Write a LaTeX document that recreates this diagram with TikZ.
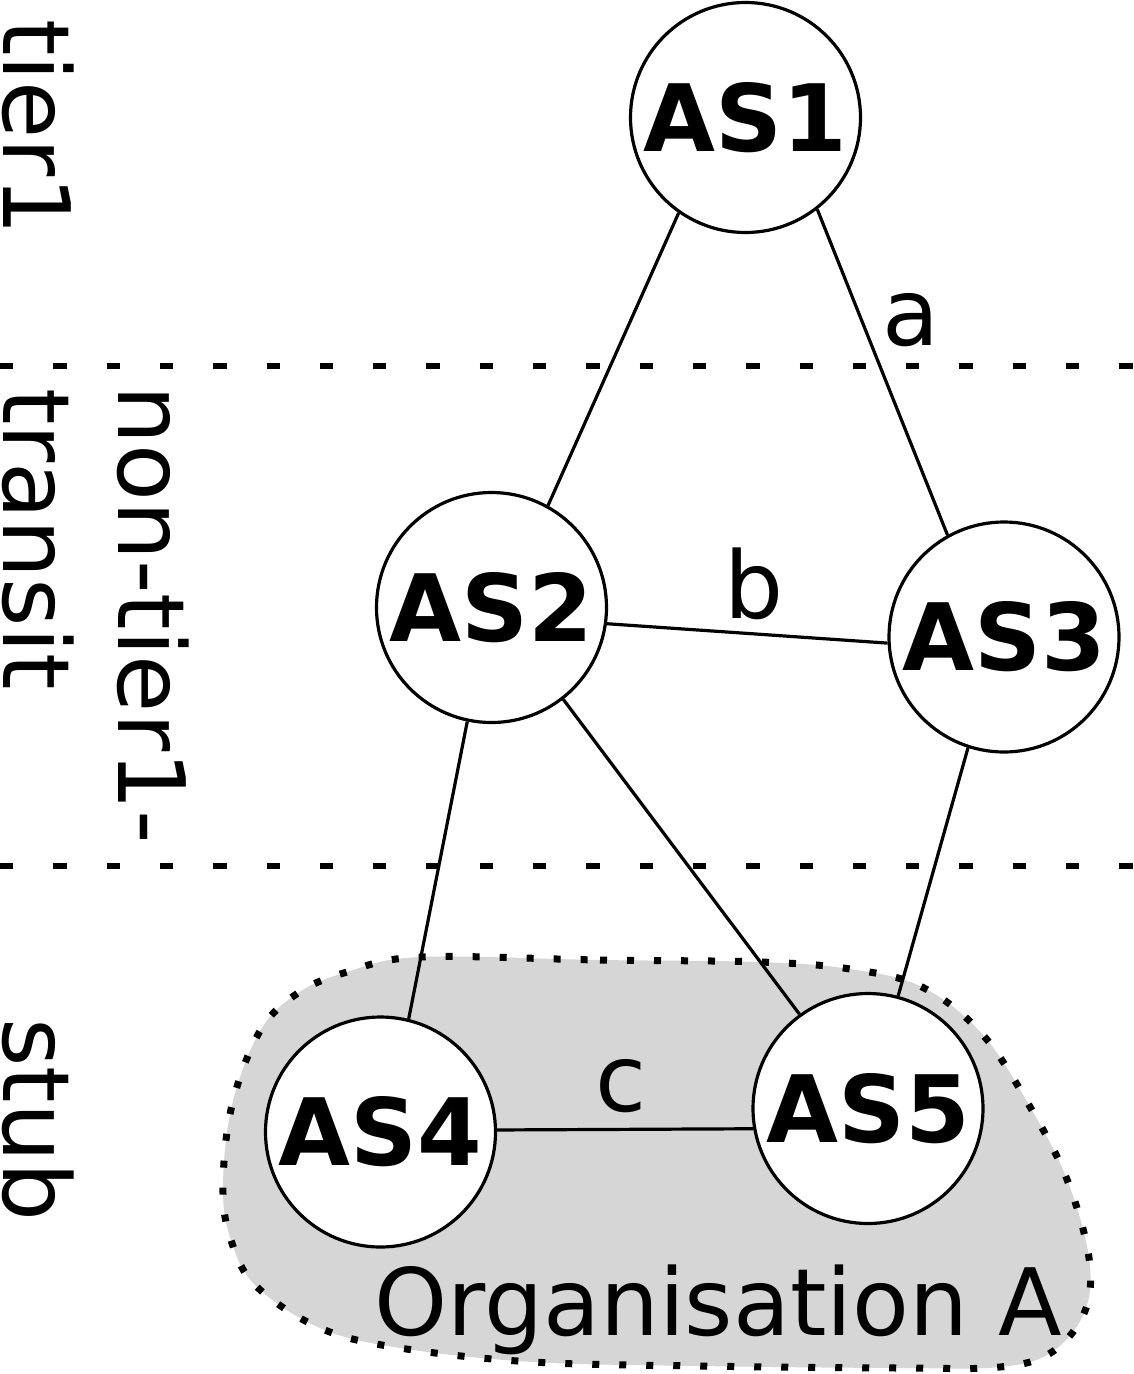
\documentclass[tikz,border=0pt]{standalone}
\usepackage{fontspec}
\setmainfont{DejaVu Sans}
\definecolor{blobgray}{RGB}{214,214,214}
\begin{document}
\begin{tikzpicture}[x=1pt,y=-1pt,
  asnode/.style={circle, draw, line width=3.2pt, fill=white, minimum size=230pt, inner sep=0pt, font=\fontsize{93}{112}\selectfont\bfseries},
  lbl/.style={inner sep=0pt, font=\fontsize{93}{112}\selectfont},
  link/.style={line width=3.2pt},
  tierline/.style={line width=6pt, dash pattern=on 13.3pt off 40pt},
  blob/.style={fill=blobgray, line width=7pt, dash pattern=on 7pt off 20pt}
]
\useasboundingbox (0,0) rectangle (1134,1374);

% organisation blob
\draw[blob] plot[smooth cycle, tension=0.6] coordinates {
  (420,957) (600,960) (760,962) (850,969) (922,987) (983,1035) (1033,1112)
  (1068,1182) (1089,1258) (1085,1311) (1052,1352) (1000,1367) (900,1368)
  (700,1366) (533,1362) (400,1348) (320,1328) (255,1285) (230,1237)
  (223,1185) (232,1105) (260,1031) (298,993) (347,972)};

% tier separators
\coordinate (t1l) at (0,366);
\coordinate (t1r) at (1134,366);
\coordinate (t2l) at (0,866);
\coordinate (t2r) at (1134,866);
\draw[tierline] (t1l) -- (t1r);
\draw[tierline] (t2l) -- (t2r);

% tier labels
\node[lbl, rotate=-90, anchor=base west] (ltier) at (3,19) {tier1};
\node[lbl, rotate=-90, anchor=base west] (lnon) at (118,385) {non-tier1-};
\node[lbl, rotate=-90, anchor=base west] (ltrans) at (3,388) {transit};
\node[lbl, rotate=-90, anchor=base west] (lstub) at (3,1018) {stub};

% AS nodes
\node[asnode] (AS1) at (745.5,117.5) {AS1};
\node[asnode] (AS2) at (491.5,607.5) {AS2};
\node[asnode] (AS3) at (1004,637) {AS3};
\node[asnode] (AS4) at (380.5,1132) {AS4};
\node[asnode] (AS5) at (868,1108.5) {AS5};

% links
\draw[link] (AS1.235) -- (AS2.61);
\draw[link] (AS1.308.6) -- (AS3.119);
\draw[link] (AS2.-8) -- (AS3.183);
\draw[link] (AS2.258) -- (AS4.76);
\draw[link] (AS2.-52) -- (AS5.126);
\draw[link] (AS3.252) -- (AS5.75);
\draw[link] (AS4.1) -- (AS5.190.8);

% link labels
\node[lbl, anchor=base] (la) at (911,345) {a};
\node[lbl, anchor=base] (lb) at (754,618) {b};
\node[lbl, anchor=base] (lc) at (621,1111) {c};

\node[lbl, anchor=base west] (org) at (374,1335) {Organisation A};
\end{tikzpicture}
\end{document}
